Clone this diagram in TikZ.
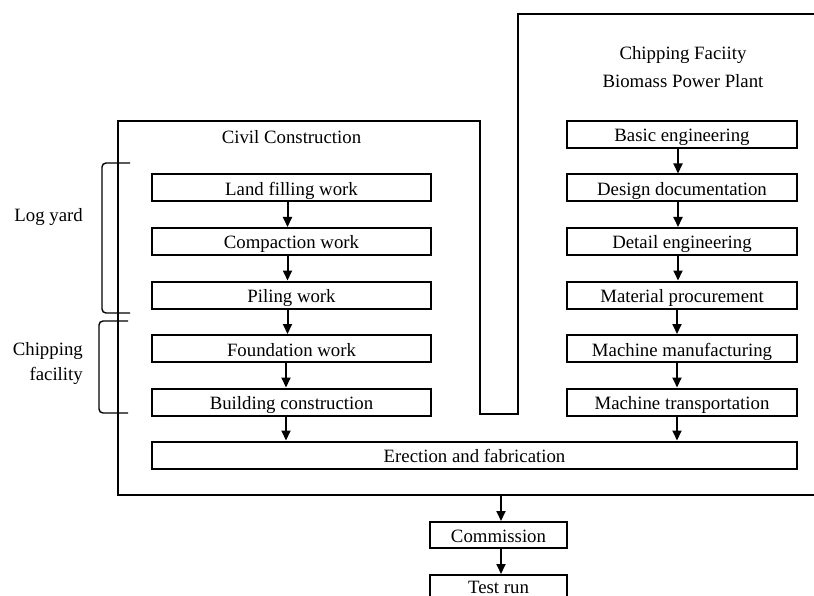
\documentclass[tikz,border=0pt]{standalone}
\usepackage{fontspec}
\setmainfont{Liberation Serif}
\usetikzlibrary{arrows.meta}
\begin{document}
\begin{tikzpicture}[x=1pt,y=-1pt,
  every node/.style={font=\fontsize{18.8}{25}\selectfont},
  stepbox/.style={draw, line width=2pt, minimum height=27pt, inner sep=0pt, text height=16pt, text depth=1pt},
  leftbox/.style={stepbox, minimum width=279pt},
  rightbox/.style={stepbox, minimum width=230pt},
  arr/.style={line width=2pt, -{Triangle[length=10pt,width=9pt]}},
  frame/.style={line width=2pt},
  brace/.style={line width=1.4pt, rounded corners=4pt}
]
\useasboundingbox (0,0) rectangle (814,596);
\begin{scope}
\clip (0,0) rectangle (814,596);
% outer frame
\draw[frame] (118,121) -- (480,121) -- (480,414) -- (518,414) -- (518,14) -- (830,14) -- (830,495) -- (118,495) -- cycle;
\coordinate (outbot) at (501,495);

% titles
\node (civ) at (291.5,137) {Civil Construction};
\node[align=center, font=\fontsize{18.8}{28}\selectfont] (chip) at (683,67) {Chipping Faciity\\Biomass Power Plant};

% left column
\node[leftbox] (lf) at (291.5,188) {Land filling work};
\node[leftbox] (cw) at (291.5,241.5) {Compaction work};
\node[leftbox] (pw) at (291.5,295) {Piling work};
\node[leftbox] (fw) at (291.5,348.5) {Foundation work};
\node[leftbox] (bc) at (291.5,402) {Building construction};

% right column
\node[rightbox] (be) at (682,134.5) {Basic engineering};
\node[rightbox] (dd) at (682,188) {Design documentation};
\node[rightbox] (de) at (682,241.5) {Detail engineering};
\node[rightbox] (mp) at (682,295) {Material procurement};
\node[rightbox] (mm) at (682,348.5) {Machine manufacturing};
\node[rightbox] (mt) at (682,402) {Machine transportation};

% bottom
\node[stepbox, minimum width=645pt] (er) at (474.5,455) {Erection and fabrication};
\node[stepbox, minimum width=137pt, minimum height=26pt] (cm) at (498.5,535) {Commission};
\node[stepbox, minimum width=137pt, minimum height=26pt, text height=14pt, text depth=3pt] (tr) at (498.5,588) {Test run};

% arrows left
\draw[arr] ([xshift=-4pt]lf.south) -- ([xshift=-4pt]cw.north);
\draw[arr] ([xshift=-4pt]cw.south) -- ([xshift=-4pt]pw.north);
\draw[arr] ([xshift=-4pt]pw.south) -- ([xshift=-4pt]fw.north);
\draw[arr] ([xshift=-5.5pt]fw.south) -- ([xshift=-5.5pt]bc.north);
\draw[arr] ([xshift=-5.5pt]bc.south) -- ([xshift=-5.5pt]bc.south |- er.north);
% arrows right
\draw[arr] ([xshift=-4pt]be.south) -- ([xshift=-4pt]dd.north);
\draw[arr] ([xshift=-4pt]dd.south) -- ([xshift=-4pt]de.north);
\draw[arr] ([xshift=-4pt]de.south) -- ([xshift=-4pt]mp.north);
\draw[arr] ([xshift=-5pt]mp.south) -- ([xshift=-5pt]mm.north);
\draw[arr] ([xshift=-5pt]mm.south) -- ([xshift=-5pt]mt.north);
\draw[arr] ([xshift=-5pt]mt.south) -- ([xshift=-5pt]mt.south |- er.north);
% to commission
\draw[arr] (outbot) -- (outbot |- cm.north);
\draw[arr] ([xshift=2.5pt]cm.south) -- ([xshift=2.5pt]tr.north);

% brackets
\draw[brace] (130,163) -- (102,163) -- (102,313) -- (130,313);
\draw[brace] (128,321) -- (99,321) -- (99,413) -- (128,413);
\node[anchor=east, inner sep=0pt] (ly) at (83,217) {Log yard};
\node[anchor=east, align=right, inner sep=0pt] (cf) at (83,364) {Chipping\\facility};
\end{scope}
\end{tikzpicture}
\end{document}
